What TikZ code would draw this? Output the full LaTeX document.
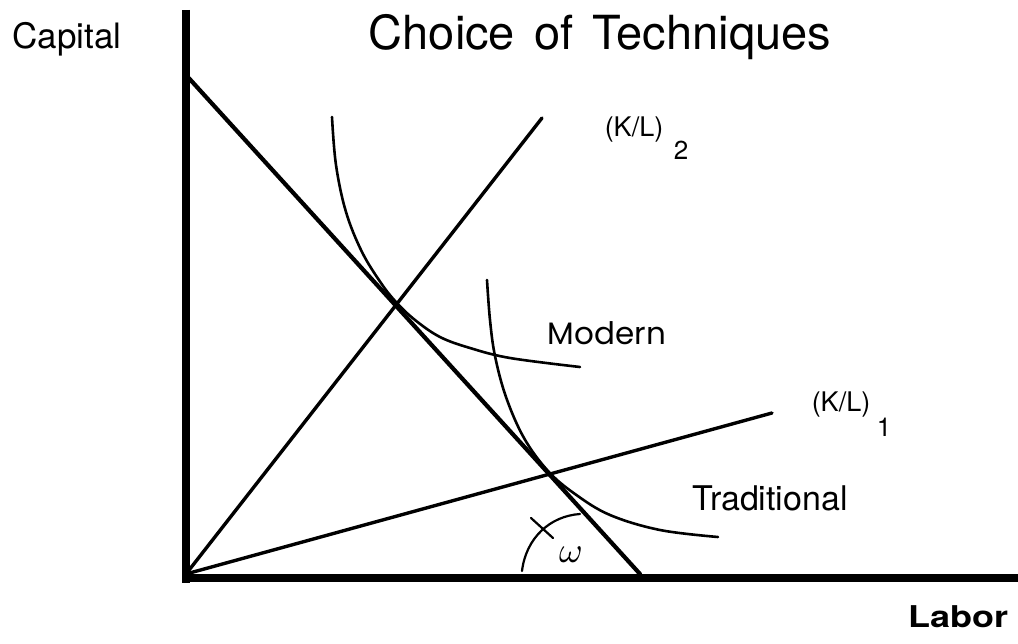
\documentclass[tikz,border=0pt]{standalone}
\usepackage{fontspec}
\setmainfont{TeX Gyre Heros}
\newfontfamily\geofont{Poppins}
\begin{document}
\begin{tikzpicture}[x=1pt,y=-1pt,
  axisline/.style={line width=8.5pt, line cap=butt},
  budget/.style={line width=4.2pt, line cap=round},
  ray/.style={line width=3.4pt, line cap=round},
  iso/.style={line width=2.6pt, line cap=round, line join=round},
  thin/.style={line width=2.2pt, line cap=round},
  lab/.style={inner sep=0pt, anchor=base}]
\useasboundingbox (0,0) rectangle (1018,644);
\fill[white] (0,0) rectangle (1018,644);
% coordinates
\coordinate (ytop) at (186,10);
\coordinate (ybot) at (186,583);
\coordinate (xl) at (182,578);
\coordinate (xr) at (1018,578);
\coordinate (O) at (186,574);
\coordinate (B1) at (186,75);
\coordinate (B2) at (640,574);
\coordinate (R2) at (542,118);
\coordinate (R1) at (772,413);
\coordinate (A1) at (522,571);
\coordinate (A2) at (580,514);
\coordinate (T1) at (531,518);
\coordinate (T2) at (553,538);
% axes
\draw[axisline] (ytop) -- (ybot);
\draw[axisline] (xl) -- (xr);
% lines
\draw[budget] (B1) -- (B2);
\draw[ray] (O) -- (R2);
\draw[ray] (O) -- (R1);
% isoquants
\draw[iso] plot[smooth, tension=0.6] coordinates {(332,117) (336,165) (346,212) (362,252) (381,283) (396,302) (415,320) (440,337) (470,348) (510,358) (580,367)};
\draw[iso] plot[smooth, tension=0.6] coordinates {(487,280) (490,320) (495,356) (506,397) (524,438) (548,471) (575,494) (610,515) (660,530) (718,537)};
% omega arc
\draw[thin] (A1) .. controls (526,538) and (550,516) .. (A2);
\draw[thin] (T1) -- (T2);
% labels
\node[lab, font=\fontsize{35}{40}\selectfont] (capital) at (67,49) {Capital};
\node[lab, font=\fontsize{47}{52}\selectfont] (title) at (600,50) {Choice\hspace{6pt} of\hspace{6pt} Techniques};
\node[lab, font=\fontsize{27}{32}\selectfont] (kl2) at (634,137) {(K/L)};
\node[lab, font=\fontsize{26}{32}\selectfont] (s2) at (681,160) {2};
\node[lab, font=\fontsize{27}{32}\selectfont] (kl1) at (841,412) {(K/L)};
\node[lab, font=\fontsize{26}{32}\selectfont] (s1) at (884,436) {1};
\node[lab, font=\geofont\fontsize{31}{36}\selectfont] (modern) at (607,345) {Modern};
\node[lab, font=\fontsize{34}{40}\selectfont] (trad) at (770,510) {Traditional};
\node[lab] (omega) at (571,562) {\scalebox{3.6}{$\omega$}};
\node[lab, font=\bfseries\fontsize{30}{34}\selectfont] (labor) at (958,627) {\scalebox{1.2}[1]{Labor}};
\end{tikzpicture}
\end{document}
